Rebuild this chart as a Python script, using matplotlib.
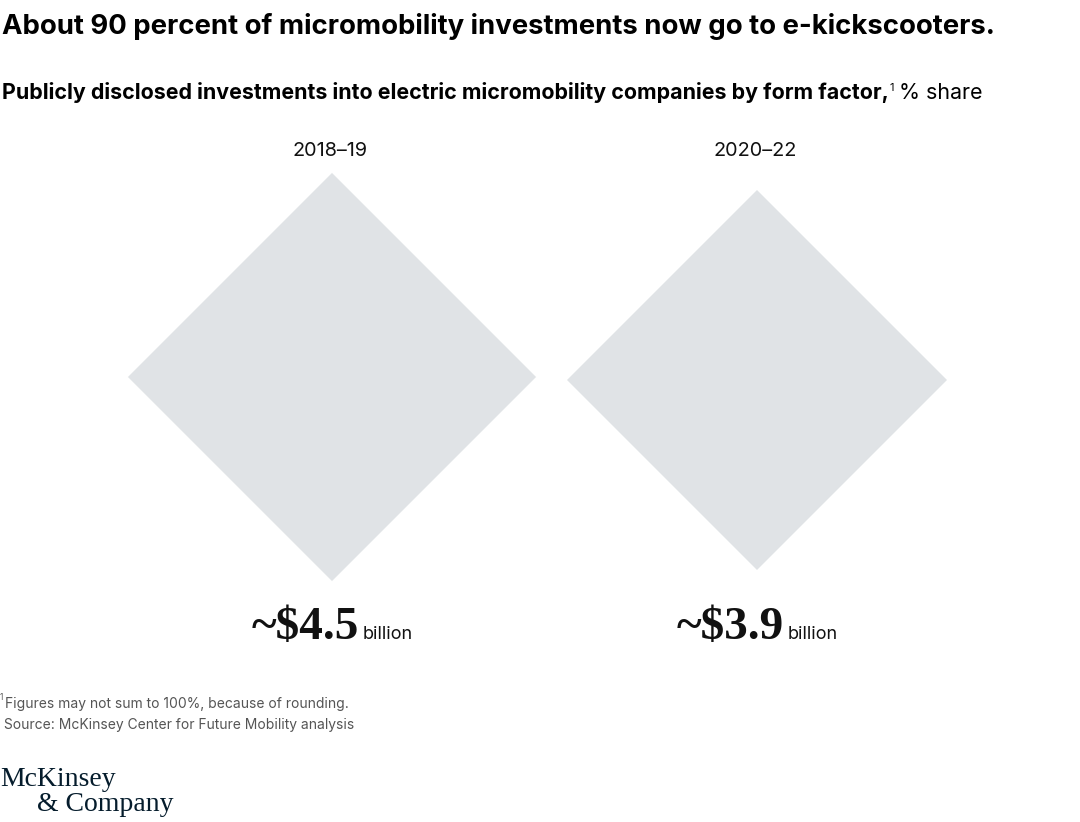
import matplotlib
matplotlib.use("Agg")
import matplotlib.pyplot as plt
from matplotlib.patches import Polygon
import numpy as np

# ---- data ----
periods = ["2018–19", "2020–22"]
investment_bn = [4.5, 3.9]
value_labels = ["~$4.5", "~$3.9"]
unit_label = "billion"

title = "About 90 percent of micromobility investments now go to e-kickscooters."
subtitle_bold = "Publicly disclosed investments into electric micromobility companies by form factor,"
subtitle_sup = "1"
subtitle_reg = " % share"
footnote = "Figures may not sum to 100%, because of rounding."
source = " Source: McKinsey Center for Future Mobility analysis"

# ---- layout ----
W, H = 1080, 822
fig = plt.figure(figsize=(W / 100, H / 100), dpi=100)
ax = fig.add_axes([0, 0, 1, 1])
ax.set_xlim(0, W)
ax.set_ylim(H, 0)
ax.axis("off")

SANS = ["Inter", "DejaVu Sans"]
SERIF = ["Liberation Serif", "DejaVu Serif"]
grey = "#E0E3E6"

centers_x = [332, 757]
centers_y = [377, 380]
k = 96.2  # px per sqrt(billion)

renderer = fig.canvas.get_renderer()

def width_px(t):
    bb = t.get_window_extent(renderer=renderer)
    return bb.width

for i, (p, v) in enumerate(zip(periods, investment_bn)):
    cx, cy = centers_x[i], centers_y[i]
    r = k * np.sqrt(v)
    poly = Polygon([(cx, cy - r), (cx + r, cy), (cx, cy + r), (cx - r, cy)],
                   closed=True, facecolor=grey, edgecolor="none")
    ax.add_patch(poly)
    ax.text(cx - 2, 156, p, ha="center", va="baseline", fontsize=14.3,
            family=SANS, color="#111111")
    # value label
    t1 = ax.text(0, 639, value_labels[i], ha="left", va="baseline",
                 fontsize=34, fontweight="bold", family=SERIF, color="#111111")
    t2 = ax.text(0, 639, unit_label, ha="left", va="baseline",
                 fontsize=13, family=SANS, color="#111111")
    w1, w2 = width_px(t1), width_px(t2)
    gap = 4
    x0 = cx - (w1 + gap + w2) / 2
    t1.set_x(x0)
    t2.set_x(x0 + w1 + gap)

# titles
ax.text(2, 34, title, ha="left", va="baseline", fontsize=19.8, fontweight="bold",
        family=SANS, color="#000000")
s1 = ax.text(2, 99, subtitle_bold, ha="left", va="baseline", fontsize=15.4,
             fontweight="bold", family=SANS, color="#000000")
w = width_px(s1)
s2 = ax.text(2 + w + 1, 91, subtitle_sup, ha="left", va="baseline", fontsize=8,
             family=SANS, color="#000000")
w2 = width_px(s2)
ax.text(2 + w + w2, 99, subtitle_reg, ha="left", va="baseline", fontsize=15.4,
        family=SANS, color="#000000")

# footnotes
ax.text(0, 700, "1", ha="left", va="baseline", fontsize=6, family=SANS, color="#555555")
ax.text(5, 708, footnote, ha="left", va="baseline", fontsize=10, family=SANS, color="#555555")
ax.text(0, 729, source, ha="left", va="baseline", fontsize=10, family=SANS, color="#555555")

# logo
ax.text(0, 786, "McKinsey", ha="left", va="baseline", fontsize=20, family=SERIF,
        color="#051C2C")
ax.text(37, 811, "& Company", ha="left", va="baseline", fontsize=20, family=SERIF,
        color="#051C2C")

fig.savefig("out.png", dpi=100, facecolor="white")
